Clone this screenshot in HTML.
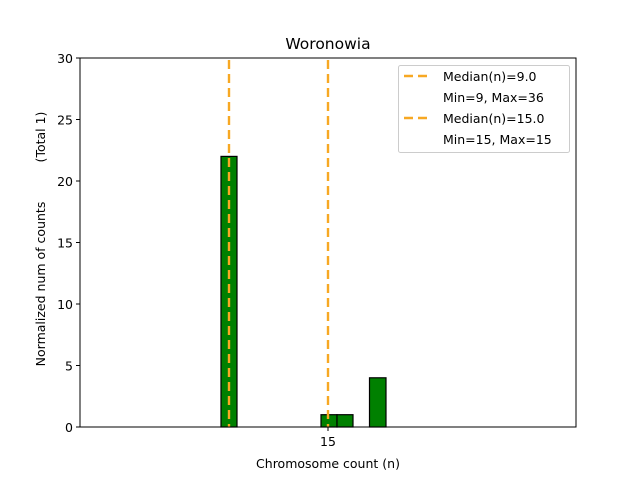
<!DOCTYPE html>
<html><head><meta charset="utf-8"><style>body{margin:0;background:#fff}svg{display:block}</style></head>
<body>
<svg width="640" height="480" xmlns="http://www.w3.org/2000/svg" font-family="DejaVu Sans, Liberation Sans, sans-serif">
<rect width="640" height="480" fill="#fff"/>
<g fill="green" stroke="#000" stroke-width="1.2">
<rect x="221" y="156.4" width="16" height="270.6"/>
<rect x="321" y="414.7" width="16" height="12.3"/>
<rect x="337" y="414.7" width="16" height="12.3"/>
<rect x="369.5" y="377.8" width="16.5" height="49.2"/>
</g>
<g stroke="#f7a823" stroke-width="2.4" stroke-dasharray="9,5">
<line x1="229" y1="60" x2="229" y2="427"/>
<line x1="328" y1="60" x2="328" y2="427"/>
</g>
<rect x="80" y="58" width="496" height="369" fill="none" stroke="#000" stroke-width="1"/>
<g stroke="#000" stroke-width="1">
<line x1="76" y1="427" x2="80" y2="427"/><line x1="76" y1="365.5" x2="80" y2="365.5"/>
<line x1="76" y1="304" x2="80" y2="304"/><line x1="76" y1="242.5" x2="80" y2="242.5"/>
<line x1="76" y1="181" x2="80" y2="181"/><line x1="76" y1="119.5" x2="80" y2="119.5"/>
<line x1="76" y1="58" x2="80" y2="58"/>
<line x1="328" y1="427" x2="328" y2="431"/>
</g>
<g font-size="12.5" text-anchor="end" fill="#000">
<text x="73" y="432">0</text><text x="73" y="370.5">5</text><text x="73" y="309">10</text>
<text x="73" y="247.5">15</text><text x="73" y="186">20</text><text x="73" y="124.5">25</text><text x="73" y="63">30</text>
</g>
<text x="328" y="446" font-size="12.5" text-anchor="middle">15</text>
<text x="328" y="468" font-size="12.5" text-anchor="middle">Chromosome count (n)</text>
<text transform="translate(45,284) rotate(-90)" font-size="12.5" text-anchor="middle">Normalized num of counts</text>
<text transform="translate(45,137) rotate(-90)" font-size="12.5" text-anchor="middle">(Total 1)</text>
<text x="328" y="49" font-size="15.5" text-anchor="middle">Woronowia</text>
<rect x="398.5" y="65.5" width="171" height="87" rx="2" fill="#fff" fill-opacity="0.8" stroke="#ccc"/>
<g stroke="#f7a823" stroke-width="2.4" stroke-dasharray="9,5">
<line x1="404" y1="76" x2="432" y2="76"/>
<line x1="404" y1="118" x2="432" y2="118"/>
</g>
<g font-size="12.5">
<text x="443" y="81">Median(n)=9.0</text>
<text x="443" y="102">Min=9, Max=36</text>
<text x="443" y="123">Median(n)=15.0</text>
<text x="443" y="144">Min=15, Max=15</text>
</g>
</svg>
</body></html>
